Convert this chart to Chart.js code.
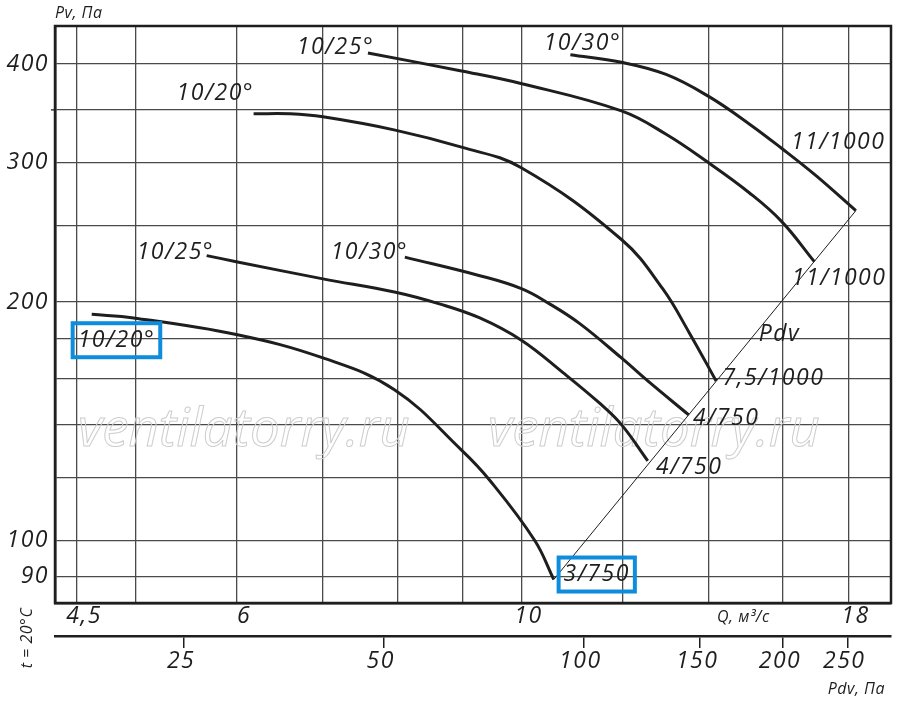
<!DOCTYPE html>
<html lang="ru">
<head>
<meta charset="utf-8">
<title>Pv – Q</title>
<script src="https://cdn.jsdelivr.net/npm/chart.js@4.4.1/dist/chart.umd.min.js"></script>
<style>
  html, body { margin: 0; padding: 0; background: #fff; }
  #wrap { width: 900px; height: 703px; }
</style>
</head>
<body>
<div id="wrap"><canvas id="fanChart" width="900" height="703"></canvas></div>
<script>
// curves: Q in m3/s, Pv in Pa
const qTop30 = [10.92, 11.97, 12.97, 14.00, 15.06, 15.96, 16.98, 18.24];
const pvTop30 = [411, 402, 388, 364, 336, 313, 289, 261];

const qTop25 = [7.59, 8.98, 9.99, 11.97, 12.97, 14.00, 15.06, 15.96, 16.93];
const pvTop25 = [413, 392, 378, 349, 326, 300, 275, 253, 225];

const qTop20 = [6.18, 6.60, 7.00, 7.97, 8.98, 9.99, 11.97, 12.89, 13.52, 14.19];
const pvTop20 = [346, 346, 343, 330, 314, 296, 240, 208, 183, 159];

const qLow30 = [8.11, 9.28, 10.0, 10.52, 11.10, 11.97, 12.55, 13.51];
const pvLow30 = [228, 216, 208, 199, 188, 170, 159, 144];

const qLow25 = [5.68, 5.99, 7.00, 7.96, 8.63, 9.28, 10.0, 10.77, 11.51, 11.97, 12.55];
const pvLow25 = [229, 225, 214, 206, 199, 191, 179, 163, 149, 140, 126];

const qLow20 = [4.62, 4.98, 5.99, 7.00, 7.96, 8.98, 9.45, 10.24, 10.60];
const pvLow20 = [193, 191, 182, 170, 155, 130, 119, 100, 89.2];

// thin Pdv line through the curve ends
const qPdv = [10.60, 18.24];
const pvPdv = [89.2, 261];

// axes
const qGrid = [4.5, 5, 6, 7, 8, 9, 10, 12, 14, 16, 18];
const qLabeled = [4.5, 6, 10, 18];
const pvGrid = [90, 100, 120, 140, 160, 180, 200, 250, 300, 350, 400];
const pvLabeled = [90, 100, 200, 300, 400];
const pdvTicks = [25, 50, 100, 150, 200, 250];

// curve captions
const captionText = ['10/25°', '10/30°', '10/20°', '11/1000', '11/1000', 'Pdv',
  '10/25°', '10/30°', '10/20°', '7,5/1000', '4/750', '4/750', '3/750'];
const captionQ = [7.16, 11.16, 5.77, 17.67, 17.70, 15.90, 5.37, 7.61, 4.83, 15.73, 14.45, 13.52, 11.45];
const captionPv = [420, 425, 367, 318, 214, 182, 231, 231, 179, 160, 142.6, 123.7, 90.5];
const framedCaptions = [8, 12];

const FONT = '"Open Sans", "DejaVu Sans", sans-serif';
const INK = '#1e1e1e';

const series = [
  [qTop30, pvTop30], [qTop25, pvTop25], [qTop20, pvTop20],
  [qLow30, pvLow30], [qLow25, pvLow25], [qLow20, pvLow20]
];

const datasets = series.map(([qs, pvs]) => ({
  data: qs.map((q, i) => ({ x: q, y: pvs[i] })),
  borderColor: INK,
  borderWidth: 3,
  pointRadius: 0,
  fill: false,
  tension: 0.4
}));
datasets.push({
  data: qPdv.map((q, i) => ({ x: q, y: pvPdv[i] })),
  borderColor: INK,
  borderWidth: 1,
  pointRadius: 0,
  fill: false
});

const setTicks = list => scale => { scale.ticks = list.map(v => ({ value: v })); };
const comma = v => String(v).replace('.', ',');

const extras = {
  id: 'extras',
  beforeDraw(chart) {
    chart.ctx.letterSpacing = '1.5px';
  },
  beforeDatasetsDraw(chart) {
    const { ctx, chartArea: a } = chart;
    ctx.save();
    // watermark
    ctx.letterSpacing = '0px';
    ctx.strokeStyle = '#cdcdcd';
    ctx.lineWidth = 1;
    ctx.textBaseline = 'alphabetic';
    ctx.textAlign = 'left';
    ctx.font = 'italic 52px ' + FONT;
    const w = ctx.measureText('ventilatorry.ru').width;
    const size = 52 * 332 / w;
    ctx.font = 'italic ' + size.toFixed(1) + 'px ' + FONT;
    ctx.strokeText('ventilatorry.ru', 78, 446);
    ctx.strokeText('ventilatorry.ru', 488, 446);
    // frame
    ctx.strokeStyle = INK;
    ctx.lineWidth = 2.5;
    ctx.strokeRect(a.left, a.top, a.right - a.left, a.bottom - a.top);
    // small tick of the 350 line outside the axis
    const y350 = chart.scales.y.getPixelForValue(350);
    ctx.lineWidth = 1.3;
    ctx.beginPath();
    ctx.moveTo(a.left - 4, y350);
    ctx.lineTo(a.left, y350);
    ctx.stroke();
    ctx.restore();
  },
  afterDatasetsDraw(chart) {
    const { ctx } = chart;
    const xs = chart.scales.x, ys = chart.scales.y;
    ctx.save();
    ctx.fillStyle = INK;
    ctx.textAlign = 'center';
    ctx.textBaseline = 'middle';
    ctx.letterSpacing = '1.5px';
    ctx.font = 'italic 23px ' + FONT;
    captionText.forEach((t, i) => {
      const px = xs.getPixelForValue(captionQ[i]);
      const py = ys.getPixelForValue(captionPv[i]);
      ctx.fillText(t, px, py);
      if (framedCaptions.includes(i)) {
        const w = ctx.measureText(t).width;
        ctx.strokeStyle = '#0d8ddb';
        ctx.lineWidth = 4;
        ctx.strokeRect(px - w / 2 - 5, py - 17, w + 10, 34);
      }
    });
    // axis captions
    ctx.letterSpacing = '0.5px';
    ctx.font = 'italic 16px ' + FONT;
    ctx.textAlign = 'left';
    ctx.fillText('Pv, Па', 55, 13);
    ctx.fillText('Q, м³/с', 717, 617);
    ctx.textAlign = 'right';
    ctx.fillText('Pdv, Па', 885, 689);
    ctx.translate(27, 638);
    ctx.rotate(-Math.PI / 2);
    ctx.textAlign = 'center';
    ctx.fillText('t = 20°C', 0, 0);
    ctx.restore();
  }
};

document.addEventListener('DOMContentLoaded', () => {
  Chart.defaults.font.family = FONT;
  Chart.defaults.color = INK;

  const ctx = document.getElementById('fanChart').getContext('2d');
  const tickFont = { family: FONT, size: 23, style: 'italic' };
  const gridStyle = { color: '#4a4a4a', lineWidth: 1.3, drawTicks: false };

  new Chart(ctx, {
    type: 'line',
    data: { datasets },
    options: {
      responsive: false,
      animation: false,
      parsing: false,
      layout: { padding: { top: 26, right: 9, left: 0, bottom: 0 } },
      plugins: { legend: { display: false }, tooltip: { enabled: false } },
      scales: {
        x: {
          type: 'logarithmic',
          position: 'bottom',
          weight: 0,
          min: 4.325,
          max: 19.43,
          afterBuildTicks: setTicks(qGrid),
          afterFit: s => { s.height = 33; },
          grid: gridStyle,
          border: { color: INK, width: 2.5 },
          ticks: {
            font: tickFont, color: INK, padding: 0, labelOffset: 7,
            autoSkip: false, maxRotation: 0,
            callback: v => qLabeled.includes(v) ? comma(v) : ''
          }
        },
        x2: {
          type: 'logarithmic',
          position: 'bottom',
          weight: 1,
          min: 15.97,
          max: 291,
          afterBuildTicks: setTicks(pdvTicks),
          afterFit: s => { s.height = 67; },
          grid: { drawOnChartArea: false, drawTicks: true, tickLength: 12, color: INK, lineWidth: 1.5 },
          border: { display: true, color: INK, width: 2.5 },
          ticks: {
            font: tickFont, color: INK, padding: 0, labelOffset: -3,
            autoSkip: false, maxRotation: 0,
            callback: v => String(v)
          }
        },
        y: {
          type: 'logarithmic',
          position: 'left',
          min: 83.3,
          max: 446.8,
          afterBuildTicks: setTicks(pvGrid),
          afterFit: s => { s.width = 55; },
          grid: gridStyle,
          border: { color: INK, width: 2.5 },
          ticks: {
            font: tickFont, color: INK, padding: 6,
            autoSkip: false,
            callback: v => pvLabeled.includes(v) ? String(v) : ''
          }
        }
      }
    },
    plugins: [extras]
  });
});
</script>
</body>
</html>
